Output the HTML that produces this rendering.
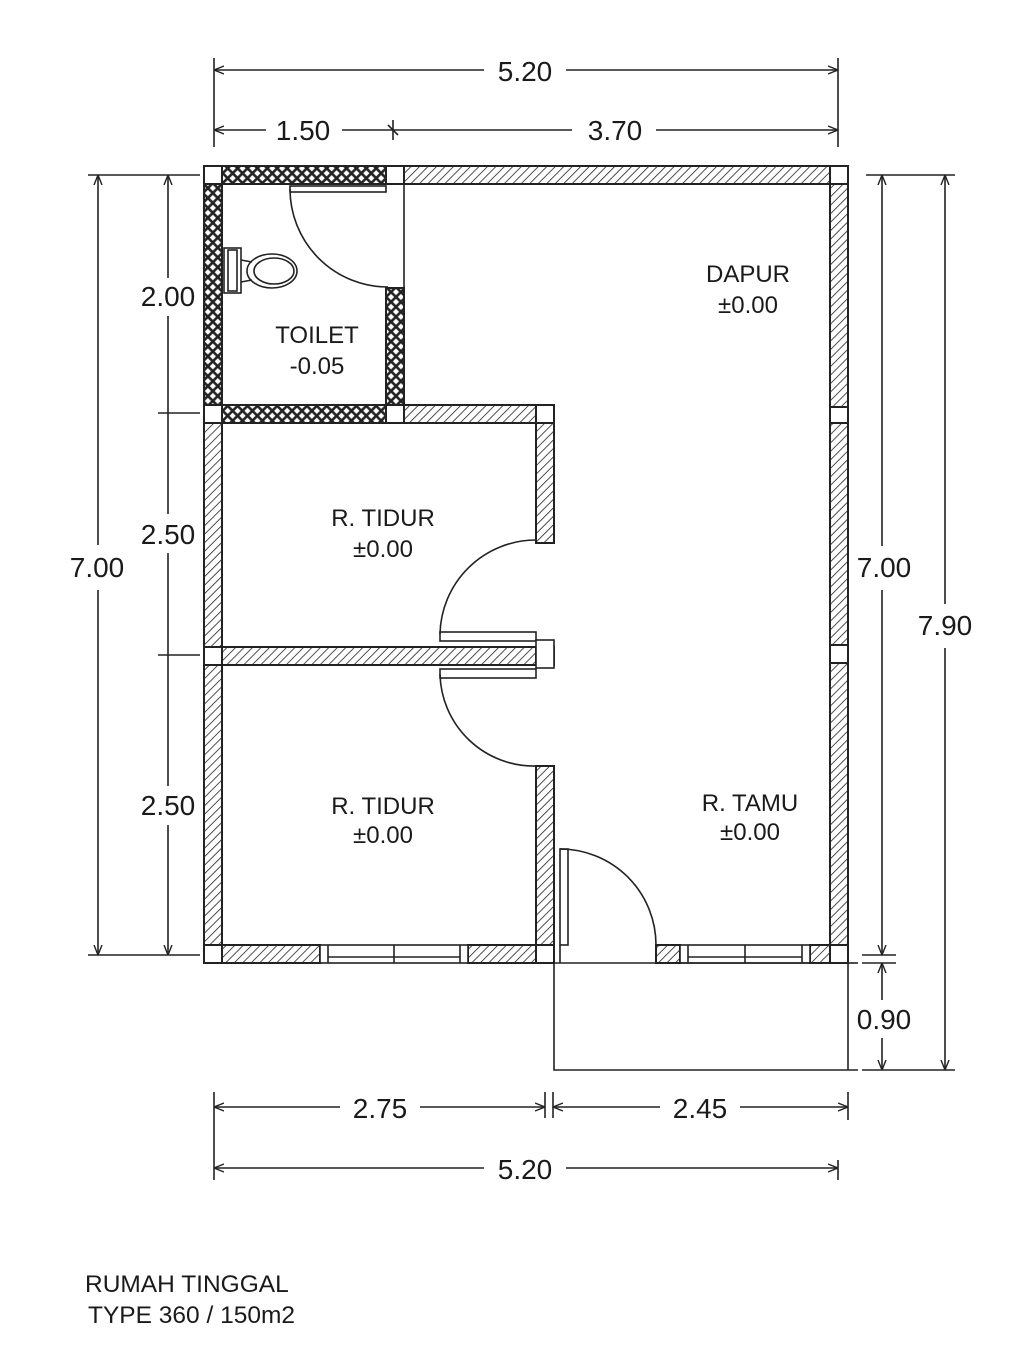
<!DOCTYPE html>
<html><head><meta charset="utf-8"><style>
html,body{margin:0;padding:0;background:#fff;}
svg{display:block;}
text{font-family:"Liberation Sans",Arial,sans-serif;fill:#1a1a1a;}
</style></head><body>
<svg width="1024" height="1372" viewBox="0 0 1024 1372" xmlns="http://www.w3.org/2000/svg">
<defs>
<pattern id="h" width="6" height="6" patternUnits="userSpaceOnUse" patternTransform="rotate(45)">
<rect width="6" height="6" fill="#fff"/><line x1="0" y1="0" x2="0" y2="6" stroke="#222" stroke-width="1.6"/>
</pattern>
<pattern id="x" width="7" height="7" patternUnits="userSpaceOnUse" patternTransform="rotate(45)">
<rect width="7" height="7" fill="#222"/><rect x="1.3" y="1.3" width="4.4" height="4.4" fill="#fff"/>
</pattern>
<marker id="a" viewBox="0 0 10 10" refX="10" refY="5" markerWidth="10" markerHeight="10" markerUnits="userSpaceOnUse" orient="auto-start-reverse">
<path d="M0,1 L10,5 L0,9" fill="none" stroke="#222" stroke-width="1.4"/>
</marker>
</defs>
<g stroke="#222" stroke-width="2">
<rect x="222" y="166" width="164" height="18" fill="url(#x)"/>
<rect x="204" y="184" width="18" height="221" fill="url(#x)"/>
<rect x="222" y="405" width="164" height="18" fill="url(#x)"/>
<rect x="386" y="288" width="18" height="117" fill="url(#x)"/>
<rect x="404" y="166" width="426" height="18" fill="url(#h)"/>
<rect x="830" y="184" width="18" height="223" fill="url(#h)"/>
<rect x="830" y="423" width="18" height="222" fill="url(#h)"/>
<rect x="830" y="663" width="18" height="282" fill="url(#h)"/>
<rect x="404" y="405" width="132" height="18" fill="url(#h)"/>
<rect x="536" y="423" width="18" height="120" fill="url(#h)"/>
<rect x="204" y="423" width="18" height="224" fill="url(#h)"/>
<rect x="204" y="665" width="18" height="280" fill="url(#h)"/>
<rect x="222" y="647" width="314" height="18" fill="url(#h)"/>
<rect x="536" y="766" width="18" height="179" fill="url(#h)"/>
<rect x="222" y="945" width="98" height="18" fill="url(#h)"/>
<rect x="468" y="945" width="68" height="18" fill="url(#h)"/>
<rect x="656" y="945" width="24" height="18" fill="url(#h)"/>
<rect x="810" y="945" width="20" height="18" fill="url(#h)"/>
<g fill="#fff">
<rect x="204" y="166" width="18" height="18"/><rect x="386" y="166" width="18" height="18"/><rect x="830" y="166" width="18" height="18"/>
<rect x="204" y="405" width="18" height="18"/><rect x="386" y="405" width="18" height="18"/><rect x="536" y="405" width="18" height="18"/>
<rect x="830" y="407" width="18" height="16"/><rect x="830" y="645" width="18" height="18"/>
<rect x="204" y="647" width="18" height="18"/><rect x="536" y="647" width="18" height="18"/>
<rect x="204" y="945" width="18" height="18"/><rect x="536" y="945" width="18" height="18"/><rect x="830" y="945" width="18" height="18"/>
</g>
</g>
<g stroke="#222" stroke-width="1.6" fill="none">
<rect x="320" y="945" width="148" height="18" fill="#fff"/>
<line x1="328" y1="945" x2="328" y2="963"/><line x1="394" y1="945" x2="394" y2="963"/><line x1="460" y1="945" x2="460" y2="963"/><line x1="328" y1="957" x2="460" y2="957"/>
<rect x="680" y="945" width="130" height="18" fill="#fff"/>
<line x1="688" y1="945" x2="688" y2="963"/><line x1="745" y1="945" x2="745" y2="963"/><line x1="802" y1="945" x2="802" y2="963"/><line x1="688" y1="957" x2="802" y2="957"/>
<rect x="290" y="186" width="96" height="6"/>
<path d="M290,189 A98,98 0 0 0 388,287"/>
<line x1="404" y1="184" x2="404" y2="288"/>
<rect x="440" y="632" width="96" height="9"/>
<path d="M440,634 A96,96 0 0 1 536,540"/>
<rect x="440" y="669" width="96" height="9"/>
<path d="M440,674 A94,94 0 0 0 536,766"/>
<rect x="536" y="640" width="18" height="28" fill="#fff"/>
<rect x="560" y="849" width="8" height="96"/>
<path d="M560,849 A96,96 0 0 1 656,945"/>
<line x1="554" y1="945" x2="554" y2="963"/><line x1="560" y1="945" x2="560" y2="963"/>
<line x1="554" y1="963" x2="848" y2="963"/>
<polyline points="554,963 554,1070 858,1070"/>
<line x1="848" y1="963" x2="848" y2="1070"/>
<line x1="848" y1="963" x2="858" y2="963"/>
<rect x="224" y="248" width="17" height="45"/>
<rect x="228" y="250" width="9" height="41"/>
<path d="M241,260 L252,262 M241,282 L252,280"/>
<ellipse cx="272" cy="271" rx="25" ry="17"/>
<ellipse cx="274" cy="271" rx="20" ry="13"/>
</g>
<g stroke="#222" stroke-width="1.6" fill="none">
<line x1="214" y1="58" x2="214" y2="147"/><line x1="838" y1="58" x2="838" y2="147"/>
<line x1="214" y1="70" x2="484" y2="70" marker-start="url(#a)"/><line x1="566" y1="70" x2="838" y2="70" marker-end="url(#a)"/>
<line x1="214" y1="130" x2="266" y2="130" marker-start="url(#a)"/><line x1="342" y1="130" x2="393" y2="130"/>
<line x1="393" y1="120" x2="393" y2="140"/><line x1="388" y1="125" x2="398" y2="135"/>
<line x1="393" y1="130" x2="572" y2="130"/><line x1="656" y1="130" x2="838" y2="130" marker-end="url(#a)"/>
<line x1="88" y1="175" x2="200" y2="175"/><line x1="88" y1="955" x2="200" y2="955"/>
<line x1="98" y1="175" x2="98" y2="545" marker-start="url(#a)"/><line x1="98" y1="590" x2="98" y2="955" marker-end="url(#a)"/>
<line x1="168" y1="175" x2="168" y2="278" marker-start="url(#a)"/><line x1="168" y1="316" x2="168" y2="413"/>
<line x1="168" y1="413" x2="168" y2="514"/><line x1="168" y1="553" x2="168" y2="655"/>
<line x1="158" y1="655" x2="200" y2="655"/><line x1="168" y1="655" x2="168" y2="786"/><line x1="168" y1="825" x2="168" y2="955" marker-end="url(#a)"/>
<line x1="158" y1="413" x2="200" y2="413"/>
<line x1="866" y1="175" x2="955" y2="175"/><line x1="862" y1="955" x2="896" y2="955"/><line x1="862" y1="963" x2="896" y2="963"/><line x1="862" y1="1070" x2="955" y2="1070"/>
<line x1="882" y1="175" x2="882" y2="546" marker-start="url(#a)"/><line x1="882" y1="590" x2="882" y2="955" marker-end="url(#a)"/>
<line x1="882" y1="963" x2="882" y2="1000" marker-start="url(#a)"/><line x1="882" y1="1038" x2="882" y2="1070" marker-end="url(#a)"/>
<line x1="945" y1="175" x2="945" y2="604" marker-start="url(#a)"/><line x1="945" y1="648" x2="945" y2="1070" marker-end="url(#a)"/>
<line x1="214" y1="1092" x2="214" y2="1180"/><line x1="838" y1="1160" x2="838" y2="1180"/><line x1="848" y1="1092" x2="848" y2="1120"/>
<line x1="545" y1="1092" x2="545" y2="1118"/><line x1="553" y1="1092" x2="553" y2="1118"/>
<line x1="214" y1="1107" x2="340" y2="1107" marker-start="url(#a)"/><line x1="420" y1="1107" x2="545" y2="1107" marker-end="url(#a)"/>
<line x1="553" y1="1107" x2="660" y2="1107" marker-start="url(#a)"/><line x1="740" y1="1107" x2="848" y2="1107" marker-end="url(#a)"/>
<line x1="214" y1="1168" x2="484" y2="1168" marker-start="url(#a)"/><line x1="566" y1="1168" x2="838" y2="1168" marker-end="url(#a)"/>
</g>
<g font-size="28" text-anchor="middle">
<text x="525" y="81">5.20</text>
<text x="303" y="140">1.50</text>
<text x="615" y="140">3.70</text>
<text x="97" y="577">7.00</text>
<text x="168" y="306">2.00</text>
<text x="168" y="544">2.50</text>
<text x="168" y="815">2.50</text>
<text x="884" y="577">7.00</text>
<text x="945" y="635">7.90</text>
<text x="884" y="1029">0.90</text>
<text x="380" y="1118">2.75</text>
<text x="700" y="1118">2.45</text>
<text x="525" y="1179">5.20</text>
</g>
<g font-size="24" text-anchor="middle">
<text x="748" y="282">DAPUR</text><text x="748" y="313">±0.00</text>
<text x="317" y="343">TOILET</text><text x="317" y="374">-0.05</text>
<text x="383" y="526">R. TIDUR</text><text x="383" y="557">±0.00</text>
<text x="383" y="814">R. TIDUR</text><text x="383" y="843">±0.00</text>
<text x="750" y="811">R. TAMU</text><text x="750" y="840">±0.00</text>
</g>
<g font-size="24.5">
<text x="85" y="1292">RUMAH TINGGAL</text>
<text x="88" y="1323">TYPE 360 / 150m2</text>
</g>
</svg>
</body></html>
